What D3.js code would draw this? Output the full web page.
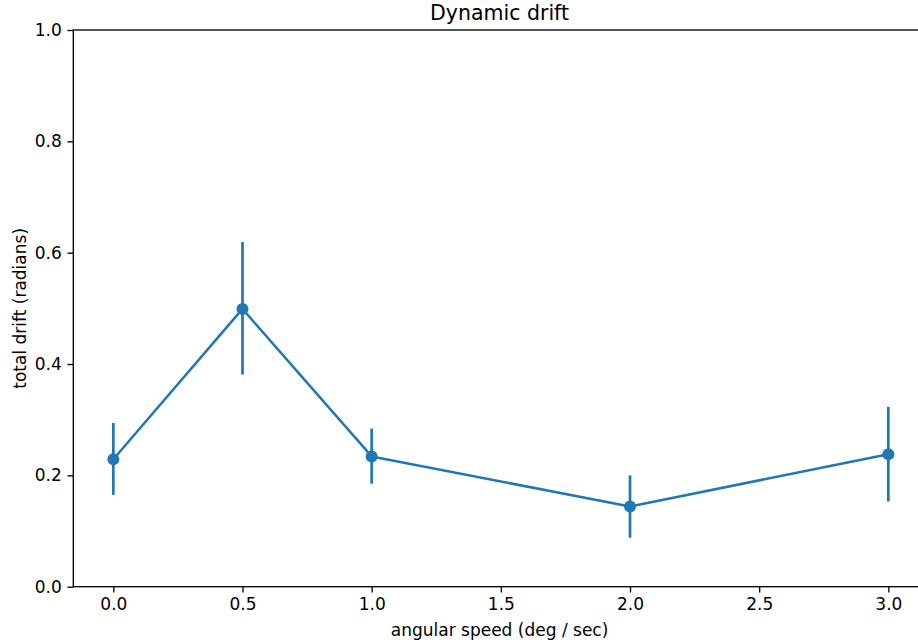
<!DOCTYPE html>
<html>
<head>
<meta charset="utf-8">
<script src="https://cdn.jsdelivr.net/npm/d3@7"></script>
<style>
  html, body { margin: 0; padding: 0; background: #fff; }
  svg { display: block; font-family: "DejaVu Sans", sans-serif; }
</style>
</head>
<body>
<svg id="chart" width="918" height="644"></svg>
<script>
// Angular speed conditions (deg / sec)
const speeds = [0.0, 0.5, 1.0, 2.0, 3.0];
// Mean total drift (radians) per condition
const drift = [0.229, 0.499, 0.234, 0.144, 0.238];
// Error bar extents (radians)
const driftLow = [0.165, 0.381, 0.185, 0.088, 0.153];
const driftHigh = [0.294, 0.619, 0.284, 0.200, 0.323];

const xTicks = [0.0, 0.5, 1.0, 1.5, 2.0, 2.5, 3.0];
const yTicks = [0.0, 0.2, 0.4, 0.6, 0.8, 1.0];

(function draw() {
  const color = "#1f77b4";
  const svg = d3.select("#chart");

  const plotLeft = 73.3, plotTop = 30, plotBottom = 586.7;
  const plotRight = plotLeft + 852.5;

  const x = d3.scaleLinear().domain([-0.155, 3.145]).range([plotLeft, plotRight]);
  const y = d3.scaleLinear().domain([0, 1]).range([plotBottom, plotTop]);

  // Axes frame (right edge falls outside the canvas)
  svg.append("rect")
    .attr("x", plotLeft).attr("y", plotTop)
    .attr("width", plotRight - plotLeft).attr("height", plotBottom - plotTop)
    .attr("fill", "none").attr("stroke", "#000").attr("stroke-width", 1.33);

  const fmt = d3.format(".1f");

  const xAxis = svg.append("g")
    .attr("transform", `translate(0,${plotBottom})`)
    .call(d3.axisBottom(x).tickValues(xTicks).tickFormat(fmt).tickSize(5.8).tickPadding(5.8));
  const yAxis = svg.append("g")
    .attr("transform", `translate(${plotLeft},0)`)
    .call(d3.axisLeft(y).tickValues(yTicks).tickFormat(fmt).tickSize(5.8).tickPadding(5.8));

  [xAxis, yAxis].forEach(g => {
    g.select(".domain").remove();
    g.selectAll(".tick line").attr("stroke", "#000").attr("stroke-width", 1.33);
    g.selectAll(".tick text")
      .attr("fill", "#000")
      .style("font-size", "17px")
      .style("font-family", "'DejaVu Sans', sans-serif");
  });

  // Error bars
  svg.append("g").selectAll("line")
    .data(speeds)
    .join("line")
    .attr("x1", (d) => x(d)).attr("x2", (d) => x(d))
    .attr("y1", (d, i) => y(driftLow[i]))
    .attr("y2", (d, i) => y(driftHigh[i]))
    .attr("stroke", color).attr("stroke-width", 2.7);

  // Connecting line
  const line = d3.line().x((d) => x(d[0])).y((d) => y(d[1]));
  svg.append("path")
    .datum(speeds.map((s, i) => [s, drift[i]]))
    .attr("d", line)
    .attr("fill", "none")
    .attr("stroke", color)
    .attr("stroke-width", 2.5)
    .attr("stroke-linejoin", "round");

  // Point markers
  svg.append("g").selectAll("circle")
    .data(speeds)
    .join("circle")
    .attr("cx", (d) => x(d))
    .attr("cy", (d, i) => y(drift[i]))
    .attr("r", 6)
    .attr("fill", color);

  // Title and axis labels
  svg.append("text")
    .attr("x", (plotLeft + plotRight) / 2).attr("y", 20)
    .attr("text-anchor", "middle")
    .style("font-size", "20.5px")
    .text("Dynamic drift");

  svg.append("text")
    .attr("x", (plotLeft + plotRight) / 2).attr("y", 636)
    .attr("text-anchor", "middle")
    .style("font-size", "17px")
    .text("angular speed (deg / sec)");

  svg.append("text")
    .attr("transform", `translate(26,${(plotTop + plotBottom) / 2}) rotate(-90)`)
    .attr("text-anchor", "middle")
    .style("font-size", "17px")
    .text("total drift (radians)");
})();
</script>
</body>
</html>
